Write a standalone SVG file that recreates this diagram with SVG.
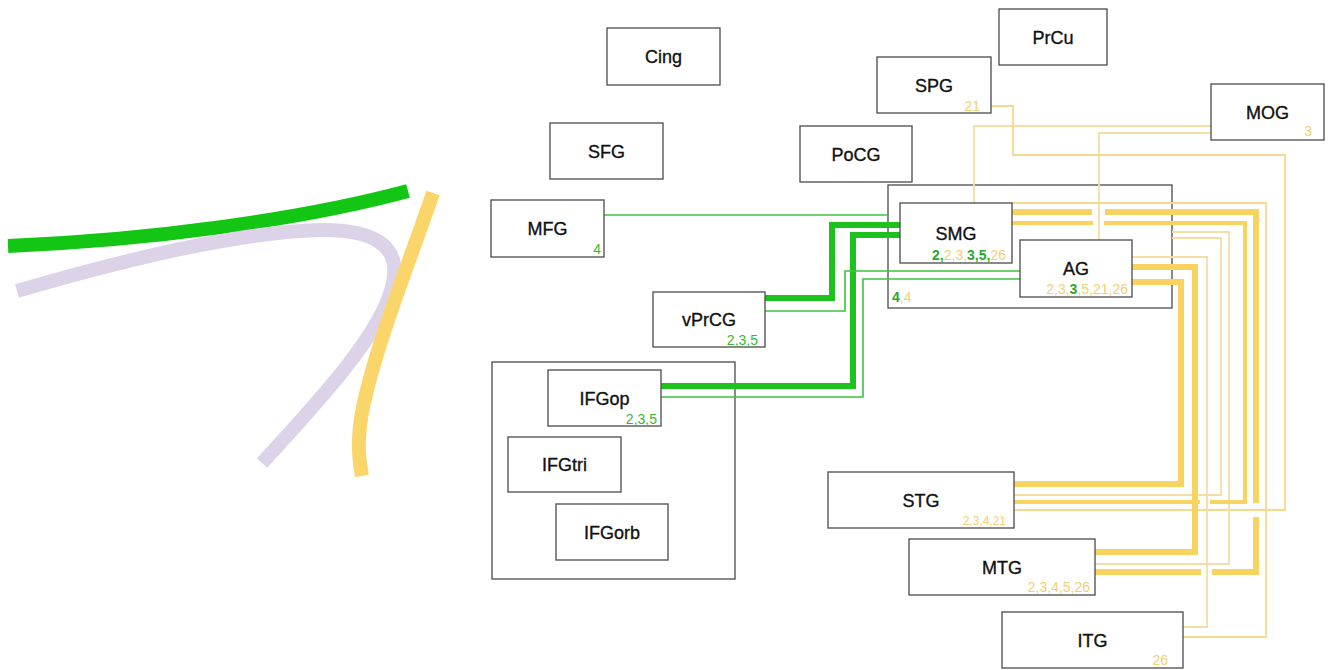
<svg xmlns="http://www.w3.org/2000/svg" width="1336" height="670" viewBox="0 0 1336 670">
<style>
.box{fill:#fff;stroke:#4a4a4a;stroke-width:1.3}
.region{fill:#fff;stroke:#4a4a4a;stroke-width:1.3}
.name{font-family:"Liberation Sans",Arial,sans-serif;font-size:18px;fill:#111;stroke:#111;stroke-width:0.35;text-anchor:middle}
.num{font-family:"Liberation Sans",Arial,sans-serif;font-size:14px;text-anchor:end}
.g{fill:#35b935}
.gb{fill:#2aa82a;font-weight:bold}
.y{fill:#f1cf74}
.c{fill:none;stroke-linejoin:miter;stroke-linecap:butt}
.gt{stroke:#1ec21e;stroke-width:6}
.gn{stroke:#3cc43c;stroke-width:1.6}
.yt{stroke:#f9d35f;stroke-width:6}
.ym{stroke:#f9d35f;stroke-width:4}
.yn{stroke:#f6d98a;stroke-width:1.8}
.yp{stroke:#f4dea6;stroke-width:1.8}
.tract{fill:none;stroke-width:14;stroke-linecap:butt}
</style>

<g id="legend-tracts">
<path class="tract" stroke="#13c613" d="M8,246 C150,240 300,220 408,191"/>
<path class="tract" stroke="#ddd3e8" d="M17,291 C130,258 240,232 320,230 C380,229 400,250 393,282 C385,330 320,400 262,463"/>
<path class="tract" stroke="#fad66a" d="M433,193 C410,260 382,330 367,390 C356,432 358,455 362,476"/>
</g>

<g id="parietal-region">
<rect class="region" x="888" y="185" width="284" height="123"/>
<text class="num" x="892" y="302" style="text-anchor:start"><tspan class="gb">4</tspan><tspan class="y">,4</tspan></text>
</g>
<g id="IFG-region">
<rect class="region" x="492" y="362" width="243" height="217"/>
</g>

<g id="connectors">
<path class="c gn" d="M604,215 H888"/>
<path class="c gt" d="M765,298 H832 V225 H900"/>
<path class="c gt" d="M661,386 H853 V235 H900"/>
<path class="c gn" d="M765,311 H845 V271 H1020"/>
<path class="c gn" d="M661,397 H863 V279 H1020"/>
<path class="c yp" d="M1211,126 H974 V203"/>
<path class="c yp" d="M1211,133 H1099 V240"/>
<path class="c yn" d="M991,106 H1013 V155 H1285 V510 H1014"/>
<path class="c yn" d="M1012,203 H1266 V637 H1183"/>
<path class="c yp" d="M1132,257 H1207 V627 H1183"/>
<path class="c yp" d="M1172,238 H1221 V495 H1014"/>
<path class="c yp" d="M1172,232 H1229 V564 H1095"/>
<path class="c yt" d="M1132,282 H1181 V484 H1014"/>
<path class="c yt" d="M1132,267 H1195 V552 H1095"/>
<path class="c ym" d="M1012,223 H1093 M1104,223 H1245 V502 H1210 M1200,502 H1014"/>
<path class="c yt" d="M1012,212 H1092 M1105,212 H1256 V503 M1256,517 V572 H1212 M1201,572 H1095"/>
</g>

<g id="Cing"><rect class="box" x="607" y="28" width="113" height="57"/><text class="name" x="663.5" y="63">Cing</text></g>
<g id="SFG"><rect class="box" x="550" y="123" width="113" height="56"/><text class="name" x="606.5" y="157.5">SFG</text></g>
<g id="MFG"><rect class="box" x="491" y="200" width="113" height="57"/><text class="name" x="547.5" y="235">MFG</text><text class="num g" x="601" y="254">4</text></g>
<g id="PoCG"><rect class="box" x="800" y="126" width="112" height="56"/><text class="name" x="856" y="160.5">PoCG</text></g>
<g id="SPG"><rect class="box" x="877" y="57" width="114" height="56"/><text class="name" x="934" y="91.5">SPG</text><text class="num y" x="980" y="111">21</text></g>
<g id="PrCu"><rect class="box" x="999" y="9" width="108" height="56"/><text class="name" x="1053" y="43.5">PrCu</text></g>
<g id="MOG"><rect class="box" x="1211" y="84" width="113" height="56"/><text class="name" x="1267.5" y="118.5">MOG</text><text class="num y" x="1312" y="136">3</text></g>
<g id="SMG"><rect class="box" x="900" y="203" width="112" height="60"/><text class="name" x="956" y="240">SMG</text><text class="num" x="1006" y="260"><tspan class="gb">2,</tspan><tspan class="y">2,3,</tspan><tspan class="gb">3,5,</tspan><tspan class="y">26</tspan></text></g>
<g id="AG"><rect class="box" x="1020" y="240" width="112" height="57"/><text class="name" x="1076" y="274.5">AG</text><text class="num" x="1128" y="294"><tspan class="y">2,3,</tspan><tspan class="gb">3</tspan><tspan class="y">,5,21,26</tspan></text></g>
<g id="vPrCG"><rect class="box" x="653" y="292" width="112" height="55"/><text class="name" x="709" y="326">vPrCG</text><text class="num g" x="758" y="345">2,3,5</text></g>
<g id="IFGop"><rect class="box" x="548" y="370" width="113" height="56"/><text class="name" x="604.5" y="404.5">IFGop</text><text class="num g" x="657" y="424">2,3,5</text></g>
<g id="IFGtri"><rect class="box" x="508" y="437" width="113" height="55"/><text class="name" x="564.5" y="471">IFGtri</text></g>
<g id="IFGorb"><rect class="box" x="556" y="504" width="112" height="56"/><text class="name" x="612" y="538.5">IFGorb</text></g>
<g id="STG"><rect class="box" x="828" y="472" width="186" height="56"/><text class="name" x="921" y="506.5">STG</text><text class="num y" x="1006" y="525" style="font-size:12px">2,3,4,21</text></g>
<g id="MTG"><rect class="box" x="909" y="539" width="186" height="56"/><text class="name" x="1002" y="573.5">MTG</text><text class="num y" x="1090" y="592">2,3,4,5,26</text></g>
<g id="ITG"><rect class="box" x="1002" y="612" width="181" height="56"/><text class="name" x="1092.5" y="646.5">ITG</text><text class="num y" x="1168" y="665">26</text></g>
</svg>
